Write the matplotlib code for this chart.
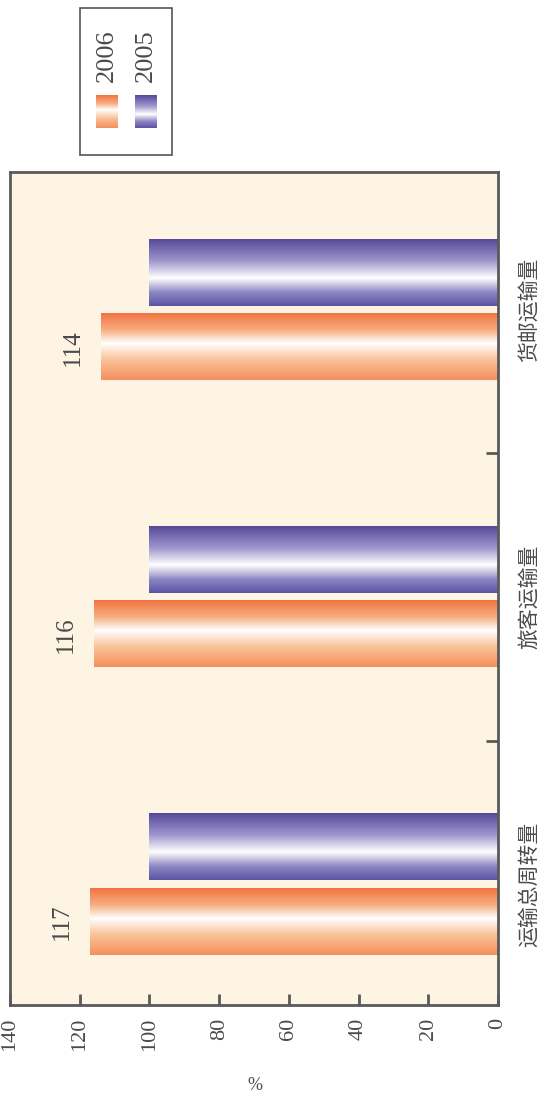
import matplotlib.pyplot as plt
import numpy as np
from matplotlib.colors import LinearSegmentedColormap
from matplotlib.patches import Rectangle

plt.rcParams['font.family'] = ['Liberation Serif', 'Noto Sans CJK SC', 'DejaVu Sans']

# 数据（以2005年为100）
categories = ['运输总周转量', '旅客运输量', '货邮运输量']
values_2006 = [117, 116, 114]
values_2005 = [100, 100, 100]
labels_2006 = ['117', '116', '114']
years = ['2006', '2005']
xticks = [0, 20, 40, 60, 80, 100, 120, 140]

text_color = '#4a4a4a'
cmap_orange = LinearSegmentedColormap.from_list('o', [
    (0.0, (0.96, 0.56, 0.36)), (0.3, (0.98, 0.76, 0.60)), (0.55, (1, 1, 1)),
    (0.75, (0.97, 0.68, 0.50)), (1.0, (0.95, 0.45, 0.26))])
cmap_blue = LinearSegmentedColormap.from_list('b', [
    (0.0, (0.36, 0.33, 0.64)), (0.2, (0.55, 0.52, 0.76)), (0.42, (1, 1, 1)),
    (0.68, (0.62, 0.58, 0.80)), (1.0, (0.33, 0.29, 0.60))])
grad = np.linspace(0, 1, 256).reshape(-1, 1)

fig = plt.figure(figsize=(5.44, 10.99), dpi=100)
ax = fig.add_axes([10 / 544, 94 / 1099, 488 / 544, 833 / 1099])
ax.set_facecolor('#fdf4e3')

y = np.arange(len(categories))
h = 0.23
bars06 = ax.barh(y - 0.13, values_2006, height=h, color='none')
bars05 = ax.barh(y + 0.13, values_2005, height=h, color='none')

# 渐变填充
for bars, cm in [(bars06, cmap_orange), (bars05, cmap_blue)]:
    for b in bars:
        x0, y0 = b.get_x(), b.get_y()
        ax.imshow(grad, extent=(x0, x0 + b.get_width(), y0, y0 + b.get_height()),
                  origin='lower', aspect='auto', cmap=cm, zorder=2)

for i, b in enumerate(bars06):
    ax.text(values_2006[i] + 8, b.get_y() + b.get_height() / 2, labels_2006[i],
            rotation=90, ha='center', va='center', fontsize=18, color=text_color)

for i, c in enumerate(categories):
    ax.text(1.066, y[i], c, transform=ax.get_yaxis_transform(), rotation=90,
            ha='center', va='center', fontsize=15, color=text_color)

ax.set_xlim(140, 0)
ax.set_ylim(-0.42, 2.48)
ax.set_xticks(xticks)
ax.set_xticklabels([str(t) for t in xticks], rotation=90, fontsize=16, color=text_color)
ax.set_yticks([0.5, 1.5])
ax.set_yticklabels([])
ax.yaxis.tick_right()
ax.tick_params(axis='x', direction='in', length=8, width=2, color='#5a5a5a', pad=9)
ax.tick_params(axis='y', direction='in', length=9, width=2, color='#5a5a5a')
for s in ax.spines.values():
    s.set_linewidth(2)
    s.set_color('#5a5a5a')

fig.text(255 / 544, 1 - 1085 / 1099, '%', ha='center', va='center', fontsize=13, color=text_color)

# 图例
fig.patches.append(Rectangle((80 / 544, 1 - 155 / 1099), 92 / 544, 147 / 1099,
                             transform=fig.transFigure, fill=False, edgecolor='#555555', lw=1.2))
for xc, yr, cm in [(107, years[0], cmap_orange), (146, years[1], cmap_blue)]:
    fig.text(xc / 544, 1 - 56 / 1099, yr, rotation=90, ha='center', va='center',
             fontsize=19, color=text_color)
    sw = fig.add_axes([(xc - 11) / 544, 1 - 128 / 1099, 22 / 544, 33 / 1099])
    sw.imshow(grad, origin='lower', aspect='auto', cmap=cm)
    sw.axis('off')

fig.savefig('out.png', dpi=100)
